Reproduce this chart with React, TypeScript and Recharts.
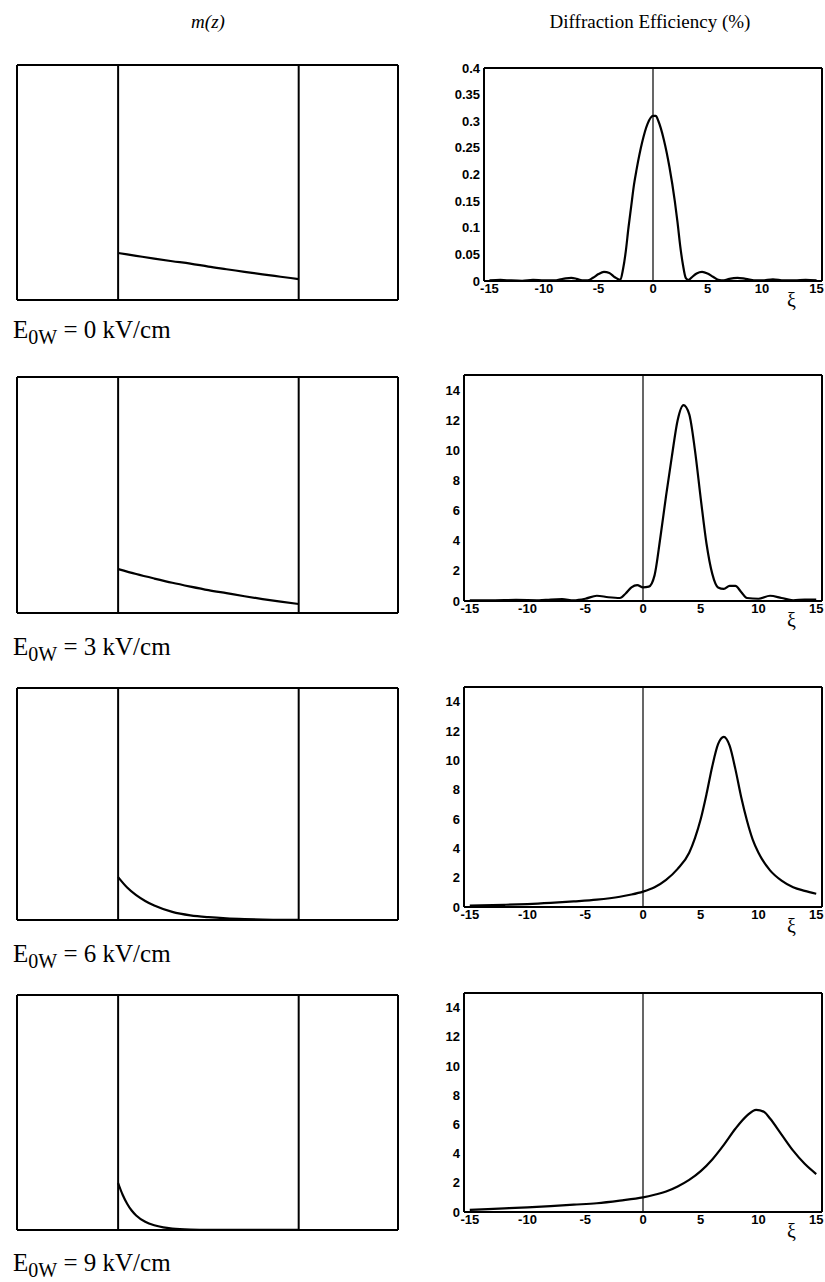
import React from 'react';
import { LineChart, Line, XAxis, YAxis, ReferenceLine } from 'recharts';

// ---------- tick labels ----------
const xiTicks = [-15, -10, -5, 0, 5, 10, 15];
const effTicksSmall = [0, 0.05, 0.1, 0.15, 0.2, 0.25, 0.3, 0.35, 0.4];
const effTicksLarge = [0, 2, 4, 6, 8, 10, 12, 14];
const fieldValues = ['0', '3', '6', '9'];

// ---------- m(z) profiles (left column) ----------
const zA = [0, 0.1, 0.2, 0.3, 0.4, 0.5, 0.6, 0.7, 0.8, 0.9, 1.0];
const m0 = [0.2, 0.188, 0.176, 0.165, 0.155, 0.142, 0.131, 0.12, 0.109, 0.099, 0.089];
const m3 = [0.186, 0.165, 0.146, 0.128, 0.112, 0.097, 0.084, 0.071, 0.059, 0.048, 0.038];
const zB = [0, 0.05, 0.1, 0.15, 0.2, 0.3, 0.4, 0.5, 0.6, 0.7, 0.8, 0.9, 1.0];
const m6 = [0.185, 0.14, 0.107, 0.082, 0.062, 0.035, 0.02, 0.012, 0.007, 0.004, 0.002, 0.001, 0.001];
const zC = [0, 0.025, 0.05, 0.075, 0.1, 0.15, 0.2, 0.25, 0.3, 0.4, 0.5, 0.6, 0.8, 1.0];
const m9 = [0.2, 0.15, 0.112, 0.083, 0.062, 0.035, 0.02, 0.011, 0.006, 0.002, 0.001, 0.001, 0.001, 0.001];

// ---------- diffraction efficiency (right column) ----------
const xi0 = [-15, -14, -13, -12, -11, -10, -9, -8.5, -8, -7.5, -7, -6.5, -6, -5.5, -5, -4.5, -4, -3.5, -3,
  -2.75, -2.5, -2.25, -2, -1.75, -1.5, -1, -0.5, 0, 0.25, 0.5, 1, 1.5, 2, 2.25, 2.5, 2.75, 3, 3.25, 3.5,
  4, 4.5, 5, 5.5, 6, 6.5, 7, 7.75, 8.5, 9.5, 10, 11, 12, 13, 14, 15];
const eff0 = [0.001, 0.002, 0.001, 0.0005, 0.002, 0.001, 0.001, 0.003, 0.005, 0.006, 0.004, 0.001, 0.001, 0.006, 0.013, 0.017, 0.015, 0.007, 0.002,
  0.022, 0.055, 0.1, 0.14, 0.18, 0.21, 0.26, 0.295, 0.31, 0.31, 0.3, 0.265, 0.215, 0.15, 0.11, 0.065, 0.03, 0.006, 0.002, 0.006,
  0.014, 0.017, 0.014, 0.008, 0.002, 0.001, 0.004, 0.006, 0.004, 0.001, 0.001, 0.003, 0.001, 0.001, 0.002, 0.001];

const xi3 = [-15, -13, -11, -9, -8, -7, -6, -5, -4, -3, -2, -1.5, -1, -0.5, 0, 0.5, 1, 1.5, 2, 2.5,
  3, 3.5, 4, 4.5, 5, 5.5, 6, 6.5, 7, 7.5, 8, 8.5, 9, 10, 11, 12, 13, 14, 15];
const eff3 = [0.05, 0.05, 0.07, 0.05, 0.1, 0.12, 0.05, 0.15, 0.35, 0.25, 0.2, 0.5, 0.9, 1.05, 0.9, 0.95, 1.7, 4.2, 7.0, 9.6,
  12.0, 13.0, 12.4, 10.0, 6.8, 3.8, 1.8, 0.9, 0.8, 1.0, 1.0, 0.6, 0.2, 0.15, 0.35, 0.2, 0.05, 0.1, 0.1];

const xi6 = [-15, -12, -10, -8, -6, -4, -2, -1, 0, 1, 2, 3, 4, 4.5, 5, 5.5, 6, 6.5, 7, 7.5,
  8, 8.5, 9, 9.5, 10, 11, 12, 13, 14, 15];
const eff6 = [0.1, 0.15, 0.2, 0.28, 0.38, 0.5, 0.7, 0.85, 1.05, 1.35, 1.85, 2.6, 3.7, 4.7, 6.0, 7.7, 9.6, 11.1, 11.6, 11.0,
  9.4, 7.5, 5.9, 4.6, 3.7, 2.5, 1.8, 1.35, 1.1, 0.9];

const xi9 = [-15, -12, -10, -8, -6, -4, -2, 0, 1, 2, 3, 4, 5, 6, 7, 8, 9, 9.8, 10.5, 11, 12, 13, 14, 15];
const eff9 = [0.15, 0.25, 0.32, 0.4, 0.5, 0.6, 0.78, 1.0, 1.18, 1.4, 1.75, 2.2, 2.8, 3.6, 4.6, 5.7, 6.6, 7.0, 6.85, 6.4, 5.3, 4.2, 3.3, 2.6];

const zip = (xs: number[], ys: number[]) => xs.map((x, i) => ({ x, y: ys[i] }));

const SERIF = '"Liberation Serif", "Times New Roman", serif';
const SANS = '"Liberation Sans", Arial, sans-serif';
const XI_DOMAIN: [number, number] = [-15.5, 15.5];
const Z_DOMAIN: [number, number] = [-0.56, 1.55];

type EffProps = {
  data: { x: number; y: number }[];
  yDomain: [number, number];
  yTicks: number[];
  left: number; top: number; right: number; bottom: number;
  chartLeft: number;
};

function EffPanel({ data, yDomain, yTicks, left, top, right, bottom, chartLeft }: EffProps) {
  const mTop = 6;
  const mRight = 3;
  const xh = 36;
  const yw = left - chartLeft;
  const chartTop = top - mTop;
  const width = right - chartLeft + mRight;
  const height = bottom - chartTop + xh;
  const tickStyle = { fill: '#000', fontFamily: SANS, fontWeight: 700, fontSize: 13 };
  return (
    <div style={{ position: 'absolute', left: chartLeft, top: chartTop }}>
      <LineChart width={width} height={height} data={data} margin={{ top: mTop, right: mRight, left: 0, bottom: 0 }}>
        <XAxis
          dataKey="x" type="number" domain={XI_DOMAIN} ticks={xiTicks} interval={0}
          tickLine={false} tickSize={0} tickMargin={3} height={xh}
          axisLine={false} tick={tickStyle} allowDataOverflow
          label={{
            content: (p: any) => {
              const vb = p.viewBox || {};
              return (
                <text x={vb.x + vb.width - 35} y={vb.y + 26} fontFamily={SERIF} fontSize={20} fill="#000">ξ</text>
              );
            },
          }}
        />
        <YAxis type="number" domain={yDomain} ticks={yTicks} interval={0} width={yw}
          tickLine={false} tickSize={0} tickMargin={4} axisLine={false} tick={tickStyle} allowDataOverflow />
        <ReferenceLine y={yDomain[0]} stroke="#000" strokeWidth={2} />
        <ReferenceLine y={yDomain[1]} stroke="#000" strokeWidth={2} />
        <ReferenceLine x={XI_DOMAIN[0]} stroke="#000" strokeWidth={2} />
        <ReferenceLine x={XI_DOMAIN[1]} stroke="#000" strokeWidth={2} />
        <ReferenceLine x={0} stroke="#000" strokeWidth={1.2} />
        <Line dataKey="y" type="monotone" dot={false} stroke="#000" strokeWidth={2.2} isAnimationActive={false} />
      </LineChart>
    </div>
  );
}

type MProps = {
  data: { x: number; y: number }[];
  left: number; top: number; right: number; bottom: number;
};

function MPanel({ data, left, top, right, bottom }: MProps) {
  const m = 2;
  return (
    <div style={{ position: 'absolute', left: left - m, top: top - m }}>
      <LineChart width={right - left + 2 * m} height={bottom - top + 2 * m} data={data}
        margin={{ top: m, right: m, left: m, bottom: m }}>
        <XAxis dataKey="x" type="number" domain={Z_DOMAIN} hide allowDataOverflow />
        <YAxis type="number" domain={[0, 1]} hide allowDataOverflow />
        <ReferenceLine y={0} stroke="#000" strokeWidth={2} />
        <ReferenceLine y={1} stroke="#000" strokeWidth={2} />
        <ReferenceLine x={Z_DOMAIN[0]} stroke="#000" strokeWidth={2} />
        <ReferenceLine x={Z_DOMAIN[1]} stroke="#000" strokeWidth={2} />
        <ReferenceLine x={0} stroke="#000" strokeWidth={2} />
        <ReferenceLine x={1} stroke="#000" strokeWidth={2} />
        <Line dataKey="y" type="monotone" dot={false} stroke="#000" strokeWidth={2.2} isAnimationActive={false} />
      </LineChart>
    </div>
  );
}

const leftRows = [
  { data: zip(zA, m0), top: 65, bottom: 300 },
  { data: zip(zA, m3), top: 377, bottom: 613 },
  { data: zip(zB, m6), top: 688, bottom: 920 },
  { data: zip(zC, m9), top: 995, bottom: 1230 },
];

const rightRows = [
  { data: zip(xi0, eff0), top: 68, bottom: 281, left: 484, chartLeft: 420, yDomain: [0, 0.4] as [number, number], yTicks: effTicksSmall },
  { data: zip(xi3, eff3), top: 375, bottom: 601, left: 464, chartLeft: 420, yDomain: [0, 15] as [number, number], yTicks: effTicksLarge },
  { data: zip(xi6, eff6), top: 687, bottom: 907, left: 464, chartLeft: 420, yDomain: [0, 15] as [number, number], yTicks: effTicksLarge },
  { data: zip(xi9, eff9), top: 993, bottom: 1212, left: 464, chartLeft: 420, yDomain: [0, 15] as [number, number], yTicks: effTicksLarge },
];

const labelBaseline = [338, 655, 962, 1271];

export default function App() {
  return (
    <div style={{ position: 'absolute', left: 0, top: 0, width: 825, height: 1282, background: '#fff', overflow: 'hidden' }}>
      <div style={{ position: 'absolute', left: 158, top: 10, width: 100, textAlign: 'center', fontFamily: SERIF, fontStyle: 'italic', fontSize: 19, lineHeight: '24px' }}>
        m(z)
      </div>
      <div style={{ position: 'absolute', left: 500, top: 10, width: 300, textAlign: 'center', fontFamily: SERIF, fontSize: 19, lineHeight: '24px' }}>
        Diffraction Efficiency (%)
      </div>
      {leftRows.map((r, i) => (
        <MPanel key={'m' + i} data={r.data} left={17} right={398} top={r.top} bottom={r.bottom} />
      ))}
      {rightRows.map((r, i) => (
        <EffPanel key={'e' + i} data={r.data} yDomain={r.yDomain} yTicks={r.yTicks}
          left={r.left} chartLeft={r.chartLeft} right={822} top={r.top} bottom={r.bottom} />
      ))}
      {fieldValues.map((v, i) => (
        <div key={'l' + i} style={{ position: 'absolute', left: 13, top: labelBaseline[i] - 23, fontFamily: SERIF, fontSize: 25, lineHeight: '30px', whiteSpace: 'nowrap' }}>
          E<sub style={{ fontSize: 20, verticalAlign: '-6px', lineHeight: 0 }}>0W</sub> = {v} kV/cm
        </div>
      ))}
    </div>
  );
}
